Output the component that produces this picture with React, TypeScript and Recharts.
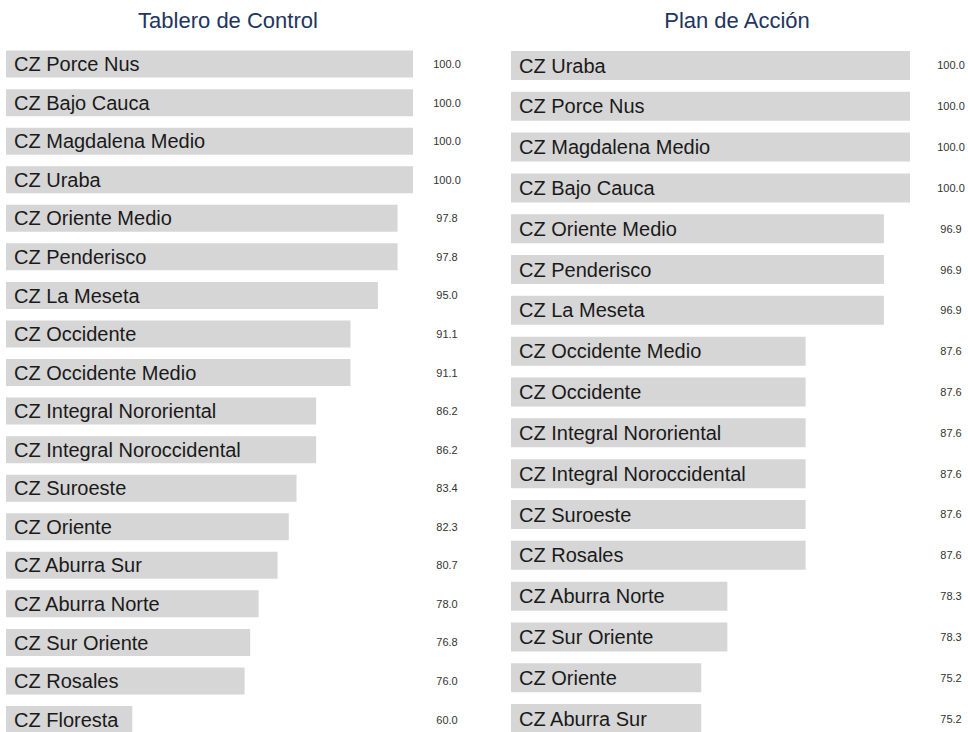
import { BarChart, Bar, XAxis, YAxis, LabelList } from "recharts";

const tableroNames = [
  "CZ Porce Nus",
  "CZ Bajo Cauca",
  "CZ Magdalena Medio",
  "CZ Uraba",
  "CZ Oriente Medio",
  "CZ Penderisco",
  "CZ La Meseta",
  "CZ Occidente",
  "CZ Occidente Medio",
  "CZ Integral Nororiental",
  "CZ Integral Noroccidental",
  "CZ Suroeste",
  "CZ Oriente",
  "CZ Aburra Sur",
  "CZ Aburra Norte",
  "CZ Sur Oriente",
  "CZ Rosales",
  "CZ Floresta",
];
const tableroValues = [
  100.0, 100.0, 100.0, 100.0, 97.8, 97.8, 95.0, 91.1, 91.1, 86.2, 86.2, 83.4,
  82.3, 80.7, 78.0, 76.8, 76.0, 60.0,
];

const planNames = [
  "CZ Uraba",
  "CZ Porce Nus",
  "CZ Magdalena Medio",
  "CZ Bajo Cauca",
  "CZ Oriente Medio",
  "CZ Penderisco",
  "CZ La Meseta",
  "CZ Occidente Medio",
  "CZ Occidente",
  "CZ Integral Nororiental",
  "CZ Integral Noroccidental",
  "CZ Suroeste",
  "CZ Rosales",
  "CZ Aburra Norte",
  "CZ Sur Oriente",
  "CZ Oriente",
  "CZ Aburra Sur",
];
const planValues = [
  100.0, 100.0, 100.0, 100.0, 96.9, 96.9, 96.9, 87.6, 87.6, 87.6, 87.6, 87.6,
  87.6, 78.3, 78.3, 75.2, 75.2,
];

const FONT = "'Liberation Sans', Arial, Helvetica, sans-serif";
const BAR_FILL = "#d6d6d6";

interface PanelProps {
  title: string;
  names: string[];
  values: number[];
  left: number;
  marginLeft: number;
  marginRight: number;
  domainMin: number;
  valueX: number;
  titleCenter: number;
}

function Panel({
  title,
  names,
  values,
  left,
  marginLeft,
  marginRight,
  domainMin,
  valueX,
  titleCenter,
}: PanelProps) {
  const data = names.map((name, i) => ({ name, value: values[i] }));

  const renderValue = (props: any) => {
    const { y, height, value } = props;
    return (
      <text
        x={valueX}
        y={Number(y) + Number(height) / 2}
        textAnchor="middle"
        dominantBaseline="central"
        fontSize={11}
        fill="#333"
        fontFamily={FONT}
      >
        {Number(value).toFixed(1)}
      </text>
    );
  };

  return (
    <>
      <div
        style={{
          position: "absolute",
          left: titleCenter - 150,
          top: 10,
          width: 300,
          textAlign: "center",
          fontFamily: FONT,
          fontSize: 22,
          lineHeight: "22px",
          color: "#22355e",
        }}
      >
        {title}
      </div>
      <div style={{ position: "absolute", left, top: 0 }}>
        <BarChart
          width={484}
          height={740}
          data={data}
          layout="vertical"
          margin={{ top: 45, right: marginRight, bottom: 1, left: marginLeft }}
          barCategoryGap="14.5%"
        >
          <XAxis type="number" hide domain={[domainMin, 100]} allowDataOverflow />
          <YAxis type="category" dataKey="name" hide />
          <Bar dataKey="value" fill={BAR_FILL} isAnimationActive={false}>
            <LabelList
              dataKey="name"
              position="insideLeft"
              offset={8}
              fill="#1a1a1a"
              fontSize={20}
              fontFamily={FONT}
            />
            <LabelList dataKey="value" content={renderValue} />
          </Bar>
        </BarChart>
      </div>
    </>
  );
}

export default function App() {
  return (
    <div
      style={{
        position: "absolute",
        left: 0,
        top: 0,
        width: 968,
        height: 732,
        overflow: "hidden",
        background: "#fff",
      }}
    >
      <Panel
        title="Tablero de Control"
        names={tableroNames}
        values={tableroValues}
        left={0}
        marginLeft={6}
        marginRight={71}
        domainMin={42}
        valueX={447}
        titleCenter={228}
      />
      <Panel
        title="Plan de Acción"
        names={planNames}
        values={planValues}
        left={484}
        marginLeft={27}
        marginRight={58}
        domainMin={52.6}
        valueX={467}
        titleCenter={737}
      />
    </div>
  );
}
